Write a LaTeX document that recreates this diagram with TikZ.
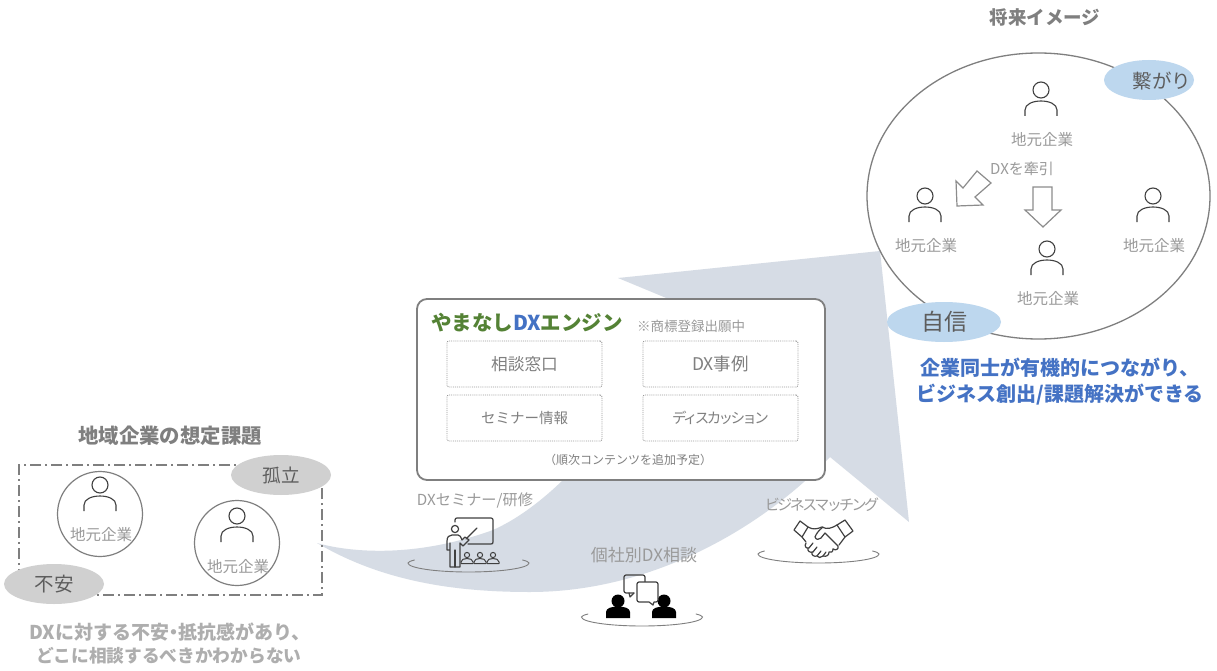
\documentclass[tikz,border=0pt]{standalone}
\usepackage{fontspec}
\setmainfont{Noto Sans CJK JP}
\usetikzlibrary{shapes.geometric}
\definecolor{flowgrey}{HTML}{D6DCE5}
\definecolor{bluebub}{HTML}{BDD7EE}
\definecolor{greybub}{HTML}{D0D0D0}
\definecolor{lab}{HTML}{9A9A9A}
\definecolor{midgrey}{HTML}{7F7F7F}
\definecolor{dark}{HTML}{404040}
\definecolor{bluetxt}{HTML}{4472C4}
\definecolor{greentxt}{HTML}{548235}
\newcommand{\fs}[1]{\fontsize{#1}{#1}\selectfont}
\newcommand{\tight}[1]{\addfontfeatures{LetterSpace=#1}}
\tikzset{
  x=1pt,y=-1pt,
  txt/.style={inner sep=0pt,outer sep=0pt,text=lab,font=\fs{15.5}},
  headtxt/.style={inner sep=0pt,text=midgrey,font=\fs{18.5}\bfseries},
  notetxt/.style={inner sep=0pt,text=lab!80!white,font=\fs{18}\bfseries,align=center},
  bluehead/.style={inner sep=0pt,text=bluetxt,font=\fs{20}\bfseries},
  bubble/.style={ellipse,inner sep=0pt,minimum width=100pt,minimum height=40pt,text=dark!85!white,font=\fs{19.5}},
  dashbox/.style={draw=midgrey!80!white,densely dotted,line width=0.9pt,rounded corners=2pt,minimum width=155pt,minimum height=46pt,inner sep=0pt,text=midgrey,font=\fs{16.7}},
  ring/.style={circle,draw=midgrey,line width=1.2pt,minimum size=85pt,inner sep=0pt},
  blockarrow/.style={draw=midgrey!90!white,fill=white,line width=1.2pt,line join=miter},
  icon/.style={draw=dark,line width=1.2pt,line cap=round,line join=round},
  personicon/.pic={
    \draw[dark,line width=1.1pt] (0,0) circle[radius=8];
    \draw[dark,line width=1.1pt] (-16,26) -- (-16,20) .. controls (-16,14) and (-8,11) .. (0,11) .. controls (8,11) and (16,14) .. (16,20) -- (16,26);
  },
  platform/.pic={
    \draw[midgrey,line width=0.9pt,line cap=round] (-54,-3) .. controls (-58,-2) and (-60.5,-1) .. (-60.5,0) .. controls (-60.5,5) and (-33,9) .. (0,9) .. controls (33,9) and (60.5,5) .. (60.5,0) .. controls (60.5,-1) and (58,-2) .. (54,-3);
  },
  smallperson/.pic={
    \draw[icon,line width=1pt] (0,0) circle[radius=2.6];
    \draw[icon,line width=1pt] (-6,8.5) -- (-6,7) .. controls (-6,4.5) and (-3,3.5) .. (0,3.5) .. controls (3,3.5) and (6,4.5) .. (6,7) -- (6,8.5) -- cycle;
  },
  blackperson/.pic={
    \fill[black] (0,0) circle[radius=6.5];
    \fill[black] (-12,17) -- (-12,11) .. controls (-12,7) and (-6,5.5) .. (0,5.5) .. controls (6,5.5) and (12,7) .. (12,11) -- (12,17) -- cycle;
  },
}
\begin{document}
\begin{tikzpicture}
\useasboundingbox (0,0) rectangle (1217,671);
\fill[white] (0,0) rectangle (1217,671);

% big flow arrow
\fill[flowgrey] (317,543) .. controls (345,551) and (410,560) .. (493,530)
  .. controls (560,500) and (620,420) .. (700,312)
  -- (618,278) -- (880,251) -- (909,522) -- (830,457)
  .. controls (760,530) and (650,592) .. (530,592)
  .. controls (450,592) and (380,580) .. (317,543) -- cycle;

% left group
\node[draw=midgrey,line width=1.2pt,dash pattern=on 11pt off 4pt on 2pt off 4pt,minimum width=303pt,minimum height=130pt,inner sep=0pt] (group) at (170.5,530) {};
\node[ring,fill=white] (c1) at (100,514) {};
\node[ring,fill=white] (c2) at (237,543) {};
\pic at (100,485) {personicon};
\pic at (237,516) {personicon};
\node[txt] (l1) at (101,535) {地元企業};
\node[txt] (l2) at (238,567) {地元企業};
\node[bubble,fill=greybub] (koritsu) at (281,475) {\fs{18.5}孤立};
\node[bubble,fill=greybub] (fuan) at (54,584) {不安};
\node[headtxt,font=\fs{20.4}\bfseries] (h1) at (170,436) {地域企業の想定課題};
\node[notetxt,font=\fs{19}\bfseries] (n1) at (170,632) {DXに対する不安\hspace{-5pt}・\hspace{-5pt}抵抗感があり、};
\node[notetxt,font=\fs{17.7}\bfseries] (n2) at (169,656) {どこに相談するべきかわからない};

% engine box
\node[draw=midgrey,fill=white,line width=1.8pt,rounded corners=10pt,minimum width=408pt,minimum height=181pt,inner sep=0pt] (engine) at (621,389.5) {};
\node[inner sep=0pt,font=\fs{20.5}\bfseries,text=greentxt] (title) at (527,323) {やまなし\textcolor{bluetxt}{DX}エンジン};
\node[txt,font=\fs{13.5}] (tm) at (691,326) {※商標登録出願中};
\node[dashbox] (b1) at (524.5,364) {相談窓口};
\node[dashbox,font=\fs{17.5}] (b2) at (720.5,364) {DX事例};
\node[dashbox,font=\fs{14.5}] (b3) at (524.5,418) {セミナー情報};
\node[dashbox,font=\fs{14.5}\tight{-18}] (b4) at (720.5,418) {ディスカッション};
\node[txt,font=\fs{12},text=midgrey] (more) at (628,460) {（順次コンテンツを追加予定）};

% service labels
\node[txt,font=\fs{15.2}] (s1) at (475,500) {DXセミナー/研修};
\node[txt,font=\fs{17}] (s2) at (644,555) {個社別DX相談};
\node[txt,font=\fs{15}\tight{-17}] (s3) at (822,505) {ビジネスマッチング};
\pic at (468.5,563) {platform};
\pic at (642,617) {platform};
\pic at (818.5,554) {platform};

% teacher icon
\draw[icon] (455,522) -- (455,520) .. controls (455,518.5) and (456,518) .. (457,518) -- (491,518) .. controls (492.5,518) and (493,519) .. (493,520) -- (493,542) .. controls (493,543.5) and (492.5,544) .. (491,544) -- (468,544);
\draw[icon] (477,528) -- (466,539);
\draw[icon] (455,529) circle[radius=3.6];
\draw[icon] (447,550) -- (447,541) .. controls (447,537) and (449,535) .. (452,535) -- (458,535) .. controls (460,535) and (461,537) .. (462,540) -- (465,537) -- (469,540) -- (463,546) -- (460,543) -- (460,567) -- (450,567) -- (450,543) -- (450,550) -- (447,550);
\draw[icon] (455,550) -- (455,567);
\pic at (467,555) {smallperson};
\pic at (480,555) {smallperson};
\pic at (493,555) {smallperson};

% chat icon
\pic at (618,601) {blackperson};
\pic at (664,601) {blackperson};
\draw[icon] (634,593) -- (626,593) .. controls (625,593) and (624,592) .. (624,591) -- (624,577) .. controls (624,576) and (625,575) .. (626,575) -- (643,575) .. controls (644,575) and (645,576) .. (645,577) -- (645,582);
\draw[icon] (629,593) -- (630,597) -- (634,593);
\draw[icon,fill=white] (639,582) -- (656,582) .. controls (657,582) and (658,583) .. (658,584) -- (658,600) .. controls (658,601) and (657,602) .. (656,602) -- (654,602) -- (653,605) -- (649,602) -- (639,602) .. controls (638,602) and (637,601) .. (637,600) -- (637,584) .. controls (637,583) and (638,582) .. (639,582) -- cycle;

% handshake icon
\draw[icon] (794,530) -- (800,521) -- (808,527) -- (802,537) -- cycle;
\draw[icon] (837,525) -- (845,520) -- (853,531) -- (845,537) -- cycle;
\draw[icon] (808,527) .. controls (813,530) and (817,529) .. (822,527) .. controls (827,530) and (832,528) .. (837,525);
\draw[icon] (823,527) .. controls (819,530) and (816,534) .. (815,537) .. controls (816,540) and (819,540) .. (821,538) -- (825,533) -- (838,546) .. controls (839,549) and (836,551) .. (833,549);
\draw[icon] (845,537) -- (839,545);
\draw[icon] (833,549) .. controls (833,552) and (831,553) .. (829,552) .. controls (829,555) and (827,557) .. (823,556);
\draw[icon] (802,537) -- (806,542);
\draw[icon] (806,543) .. controls (804,546) and (806,549) .. (809,548) -- (813,543);
\draw[icon] (808,548) .. controls (807,551) and (810,553) .. (813,552) -- (817,547);
\draw[icon] (812,552) .. controls (811,555) and (814,557) .. (817,556) -- (821,551);
\draw[icon] (817,556) .. controls (818,558) and (821,558) .. (823,556) -- (826,552);

% future circle
\node[headtxt] (h2) at (1045,17) {将来イメージ};
\node[ellipse,draw=midgrey,line width=1.3pt,minimum width=343pt,minimum height=286pt,inner sep=0pt] (future) at (1038.5,196) {};
\pic at (1041,90) {personicon};
\pic at (925,196) {personicon};
\pic at (1153,196) {personicon};
\pic at (1047,249) {personicon};
\node[txt] (f1) at (1042,140) {地元企業};
\node[txt] (f2) at (926,246) {地元企業};
\node[txt] (f3) at (1154,246) {地元企業};
\node[txt] (f4) at (1048,299) {地元企業};
\node[txt,font=\fs{15}] (lead) at (1022,169) {DXを牽引};
\draw[blockarrow] (1033,187) -- (1052,187) -- (1052,210) -- (1061,210) -- (1043,227) -- (1025,210) -- (1033,210) -- cycle;
\draw[blockarrow] (957,206) -- (956,181) -- (963,188) -- (977,171) -- (991,183) -- (975,197) -- (983,205) -- cycle;
\node[bubble,fill=bluebub,minimum width=90pt] (tsunagari) at (1149,80) {};
\node[inner sep=0pt,text=dark!85!white,font=\fs{19.5}] (tsunagaritxt) at (1162,81) {繋がり};
\node[bubble,fill=bluebub,minimum width=114pt,font=\fs{23}] (jishin) at (944,322) {自信};
\node[bluehead] (r1) at (1060,368) {企業同士が有機的につながり、};
\node[bluehead] (r2) at (1060,395) {ビジネス創出/課題解決ができる};
\end{tikzpicture}
\end{document}
